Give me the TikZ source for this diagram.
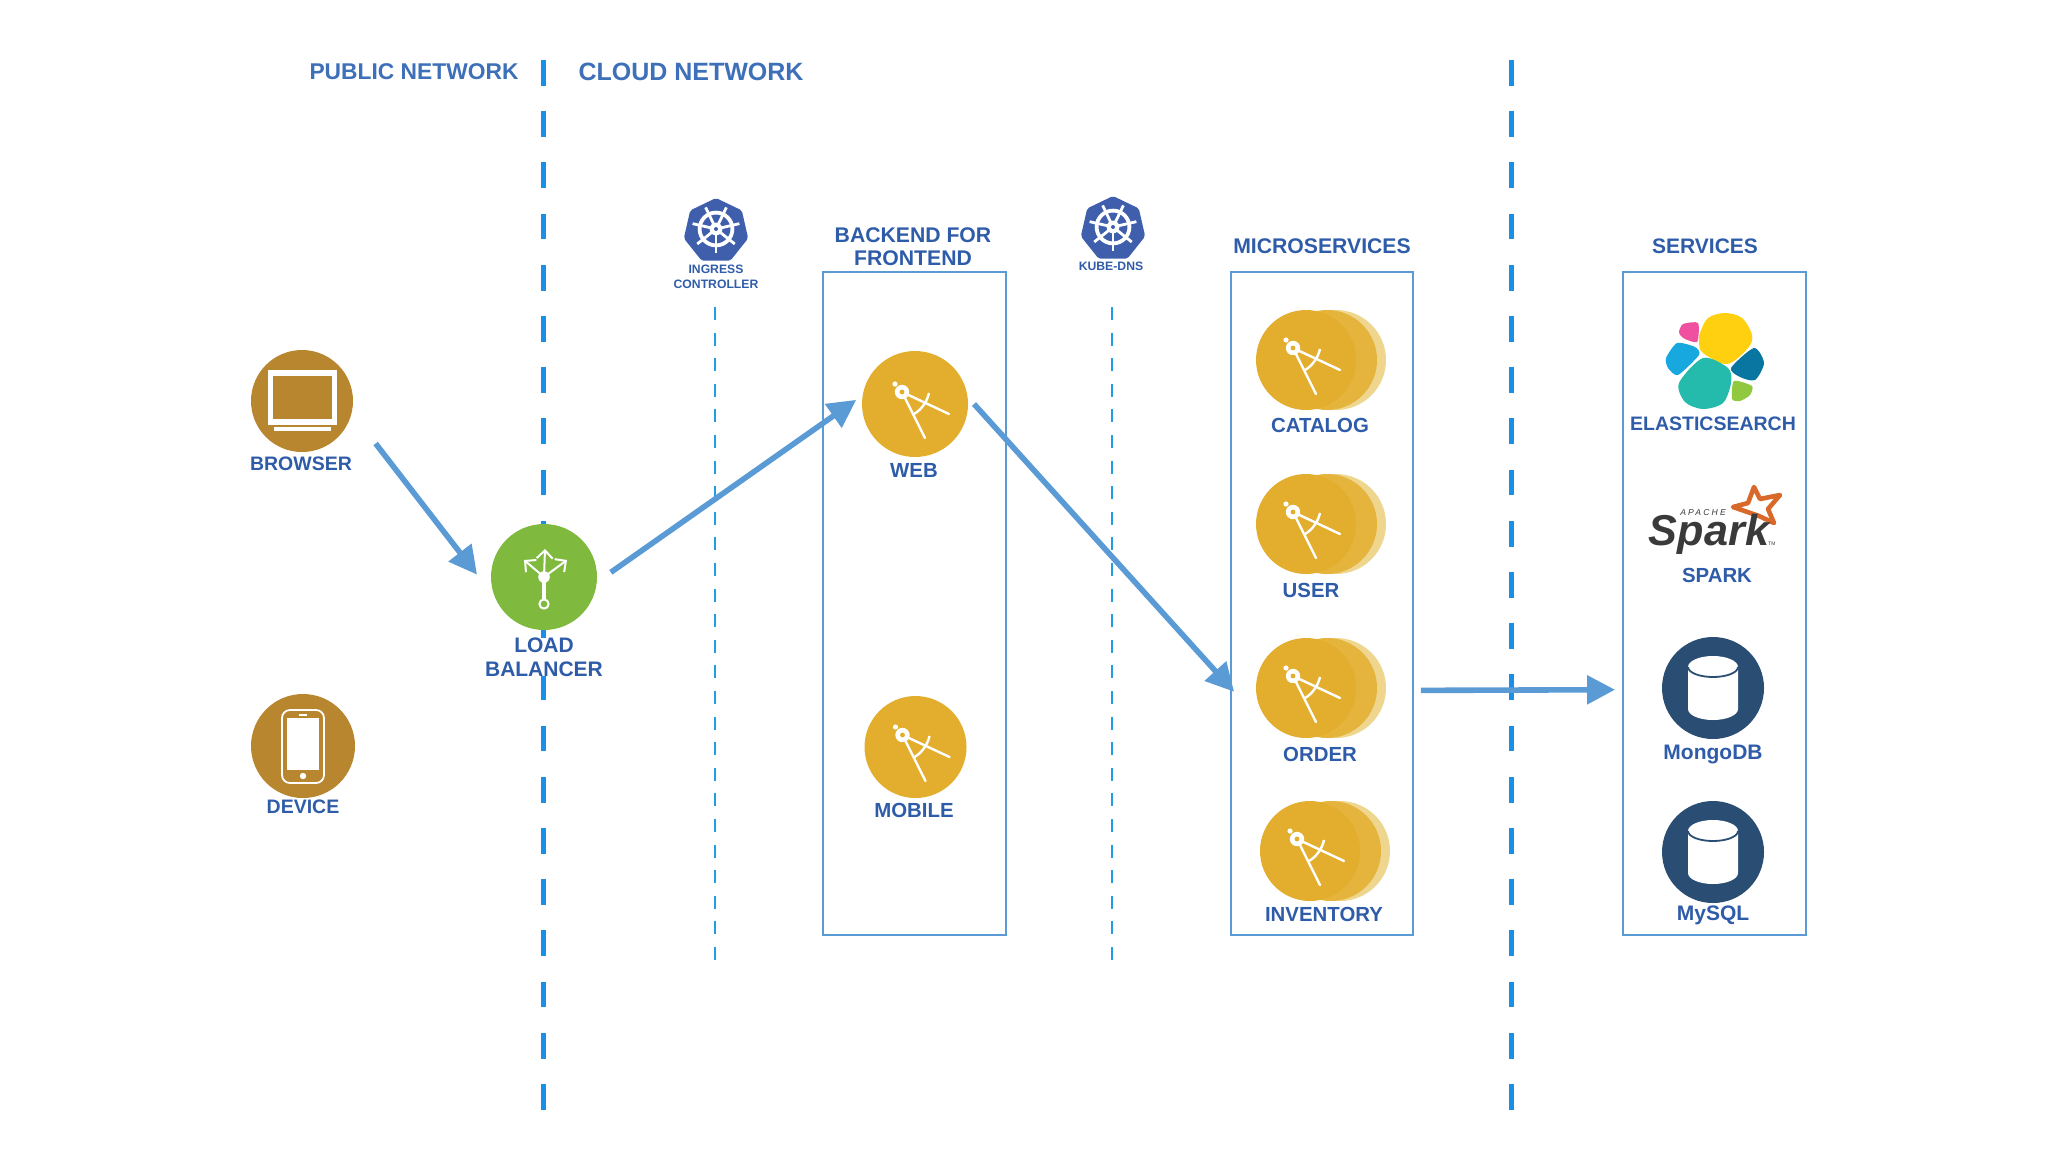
\documentclass[tikz,border=0pt]{standalone}
\usepackage{fontspec}
\setmainfont{Liberation Sans}
\usetikzlibrary{arrows.meta,shapes.geometric}
\definecolor{C0}{RGB}{91,155,213}    % boxes, arrows
\definecolor{C1}{RGB}{26,143,232}    % network borders
\definecolor{C2}{RGB}{33,158,225}    % thin borders
\definecolor{labelblue}{RGB}{47,92,168}
\definecolor{headblue}{RGB}{61,112,184}
\definecolor{kubeblue}{RGB}{63,95,173}
\definecolor{clientbrown}{RGB}{184,134,46}
\definecolor{lbgreen}{RGB}{127,186,63}
\definecolor{appgold}{RGB}{227,174,46}
\definecolor{appgoldb}{RGB}{229,180,60}
\definecolor{appgoldc}{RGB}{239,214,143}
\definecolor{dbblue}{RGB}{42,77,115}
\definecolor{sparkgrey}{RGB}{58,58,58}
\definecolor{sparkorange}{RGB}{217,105,43}
\newcommand{\labfont}{\fontsize{10.2}{12}\selectfont\bfseries}
\newcommand{\clientfont}{\fontsize{9.75}{12}\selectfont\bfseries}
\newcommand{\titlefont}{\fontsize{10.6}{11.5}\selectfont\bfseries}
\newcommand{\smallfont}{\fontsize{6.1}{7.5}\selectfont\bfseries}
\tikzset{
  disc/.style={circle,inner sep=0pt},
  lab/.style={font=\labfont,text=labelblue,inner sep=0pt,align=center},
  headlab/.style={inner sep=0pt,text=headblue},
  flow/.style={-{Triangle[length=14pt,width=14pt]},line width=2.8pt,color=C0},
  netline/.style={line width=2.5pt,color=C1,dash pattern=on 12.85pt off 12.75pt},
  thinline/.style={line width=1pt,color=C2,dash pattern=on 6.5pt off 6.3pt},
  tierbox/.style={draw=C0,line width=1.2pt,inner sep=0pt},
  iconline/.style={line width=1.2pt,color=white},
  compass/.pic={
    \draw[iconline,line cap=round] (-13,-12) -- (10,34);
    \draw[iconline,line cap=round] (-13,-12) -- (34,10);
    \draw[iconline] (14,-11) .. controls (12,-2) and (6,6) .. (-1,10);
    \fill[white] (-20,-20) circle (1.3pt);
    \fill[white] (-13,-12) circle (3.6pt);
    \fill[appgold] (-13,-12) circle (1.2pt);
  },
  helm/.pic={
    \draw[white,line width=1.9pt] (0,0) circle (8.2pt);
    \foreach \a in {90,141.4,192.9,244.3,295.7,347.1,38.6}
      \draw[iconline,line width=1.4pt] (0,0) -- (\a:24);
    \fill[white] (0,0) circle (3.2pt);
    \fill[kubeblue] (0,0) circle (1pt);
  },
  drum/.pic={
    \fill[white] (-25,-21) arc[start angle=180,end angle=360,x radius=25,y radius=11]
      -- (25,21) arc[start angle=0,end angle=180,x radius=25,y radius=11] -- cycle;
    \draw[dbblue,line width=.9pt] (-25,-21) arc[start angle=180,end angle=0,x radius=25,y radius=10];
  },
}
\begin{document}
\begin{tikzpicture}[x=.5pt,y=-.5pt]
  \useasboundingbox (0,0) rectangle (2048,1152);

  % Network borders.
  \foreach \x in {543,1511}
    \draw[netline] (\x,60) -- (\x,1110);
  \foreach \x in {715,1112}
    \draw[thinline] (\x,307) -- (\x,960);
  \node[headlab,font=\fontsize{11.4}{14}\selectfont\bfseries] (publicnet) at (414,72) {PUBLIC NETWORK};
  \node[headlab,font=\fontsize{12.5}{14}\selectfont\bfseries] (cloudnet) at (691,72) {CLOUD NETWORK};

  % Tier boxes.
  \node[tierbox,minimum width=91.5pt,minimum height=331.5pt] (bffbox) at (914.5,603.5) {};
  \node[tierbox,minimum width=91pt,minimum height=331.5pt] (microbox) at (1322,603.5) {};
  \node[tierbox,minimum width=91.5pt,minimum height=331.5pt] (servicebox) at (1714.5,603.5) {};
  \node[lab,font=\titlefont] (bfftitle) at (913,247) {BACKEND FOR\\FRONTEND};
  \node[lab,font=\fontsize{10.6}{12}\selectfont\bfseries] (microtitle) at (1322,246) {MICROSERVICES};
  \node[lab,font=\fontsize{10.5}{12}\selectfont\bfseries] (servicetitle) at (1705,246) {SERVICES};

  % Kubernetes.
  \node[regular polygon,regular polygon sides=7,fill=kubeblue,inner sep=0pt,minimum size=33pt,rounded corners=1pt] (ingress) at (716,231) {};
  \pic at (716,229) {helm};
  \node[lab,font=\smallfont] (ingresslabel) at (716,277) {INGRESS\\CONTROLLER};
  \node[regular polygon,regular polygon sides=7,fill=kubeblue,inner sep=0pt,minimum size=33pt,rounded corners=1pt] (kubedns) at (1113,229) {};
  \pic at (1113,227) {helm};
  \node[lab,font=\smallfont] (kubelabel) at (1111,266) {KUBE-DNS};

  % Clients.
  \node[disc,fill=clientbrown,minimum size=51pt,outer sep=17pt] (browser) at (302,401) {};
  \draw[white,line width=2.7pt] (270.5,373) rectangle (334.5,422);
  \fill[white] (273.5,427) rectangle (331,431);
  \node[lab,font=\clientfont] (browserlabel) at (301,464) {BROWSER};
  \node[disc,fill=clientbrown,minimum size=52pt] (device) at (303,746) {};
  \draw[white,line width=.9pt,rounded corners=4pt] (282,710) rectangle (324,783);
  \fill[white] (287,718) rectangle (319,770);
  \fill[white] (303,776) circle (1.6pt);
  \draw[white,line width=.8pt] (299,715) -- (307,715);
  \node[lab,font=\clientfont] (devicelabel) at (303,807) {DEVICE};

  % Load balancer.
  \node[lab,font=\fontsize{10.5}{12}\selectfont\bfseries,fill=white] (lblabel) at (544,657) {LOAD\\BALANCER};
  \node[disc,fill=lbgreen,minimum size=53pt,outer sep=7pt] (lb) at (544,577) {};
  \draw[iconline,line width=1.7pt] (544,577) -- (544,600);
  \draw[iconline,line width=1pt] (544,604) circle (2.3pt);
  \fill[white] (544,577) circle (2.9pt);
  \foreach \ex/\ey in {545/549,524/560,567/560}
    \draw[iconline,line width=1pt,-{Straight Barb[length=4pt,width=8pt]}] (544,577) -- (\ex,\ey);

  % Backend for frontend.
  \node[disc,fill=appgold,minimum size=53pt,outer sep=3pt] (web) at (915,404) {};
  \pic at (915,404) {compass};
  \node[lab] (weblabel) at (914,470) {WEB};
  \node[disc,fill=appgold,minimum size=51pt] (mobile) at (915.5,747) {};
  \pic at (915.5,747) {compass};
  \node[lab] (mobilelabel) at (914,810) {MOBILE};

  % Microservices.
  \foreach \name/\x/\y in {catalog/1306/360,user/1306/524,order/1306/688,inventory/1310/851}{
    \fill[appgoldc] (\x+30,\y) circle (25pt);
    \fill[appgoldb] (\x+21,\y) circle (25pt);
    \node[disc,fill=appgold,minimum size=50pt,outer sep=11pt] (\name) at (\x,\y) {};
    \pic at (\x,\y) {compass};
  }
  \node[lab] (cataloglabel) at (1320,425) {CATALOG};
  \node[lab] (userlabel) at (1311,590) {USER};
  \node[lab] (orderlabel) at (1320,754) {ORDER};
  \node[lab] (inventorylabel) at (1324,914) {INVENTORY};

  % Elasticsearch logo.
  \fill[color={rgb,255:red,254;green,208;blue,15}] plot[smooth cycle,tension=.55] coordinates {(1700,333) (1708,318) (1725,313) (1742,318) (1752,335) (1748,348) (1727,364) (1703,353) (1699,343)};
  \fill[color={rgb,255:red,240;green,80;blue,160}] plot[smooth cycle,tension=.4] coordinates {(1679,332) (1683,324) (1698,323) (1697,342) (1683,338)};
  \fill[color={rgb,255:red,24;green,168;blue,224}] plot[smooth cycle,tension=.4] coordinates {(1666,358) (1677,343) (1695,347) (1699,355) (1678,375) (1668,368)};
  \fill[color={rgb,255:red,8;green,118;blue,160}] plot[smooth cycle,tension=.45] coordinates {(1754,348) (1764,363) (1755,380) (1740,377) (1731,368)};
  \fill[color={rgb,255:red,36;green,186;blue,172}] plot[smooth cycle,tension=.5] coordinates {(1703,358) (1728,368) (1731,383) (1723,403) (1703,409) (1685,402) (1679,383)};
  \fill[color={rgb,255:red,144;green,200;blue,64}] plot[smooth cycle,tension=.4] coordinates {(1734,381) (1752,386) (1750,395) (1740,401) (1732,399)};
  \node[lab,font=\clientfont] (elasticlabel) at (1713,424) {ELASTICSEARCH};

  % Spark logo.
  \draw[sparkorange,line width=2.3pt,line join=round] (1754,487) -- (1760,499) -- (1780,495) -- (1768,509) -- (1774,523) -- (1759,516) -- (1733,507) -- (1748,503) -- cycle;
  \node[anchor=base,inner sep=0pt,text=sparkgrey,font=\fontsize{21.6}{22}\selectfont\bfseries\itshape] (sparkword) at (1709,545) {Spark};
  \node[inner sep=0pt,text=sparkgrey,font=\fontsize{4.3}{5}\selectfont\itshape\addfontfeature{LetterSpace=25}] (apache) at (1703,513) {APACHE};
  \node[inner sep=0pt,text=sparkgrey,font=\fontsize{2.5}{3}\selectfont] (sparktm) at (1772,544) {TM};
  \node[lab] (sparklabel) at (1717,575) {SPARK};

  % Databases.
  \node[disc,fill=dbblue,minimum size=51pt,outer sep=23.5pt] (mongo) at (1713,688) {};
  \pic at (1713,688) {drum};
  \node[lab,font=\fontsize{10.5}{12}\selectfont\bfseries] (mongolabel) at (1713,754) {MongoDB};
  \node[disc,fill=dbblue,minimum size=51pt,outer sep=23.5pt] (mysql) at (1713,852) {};
  \pic at (1713,852) {drum};
  \node[lab,font=\fontsize{10.5}{12}\selectfont\bfseries] (mysqllabel) at (1713,915) {MySQL};

  % Request flow.
  \draw[flow] (browser.-30) -- (lb.178);
  \draw[flow] (lb.4) -- (web.176);
  \draw[flow] (web.0) -- (order.183);
  \draw[flow,shorten <=21.5pt] (order.358) -- (mongo.181.5);

\end{tikzpicture}
\end{document}
